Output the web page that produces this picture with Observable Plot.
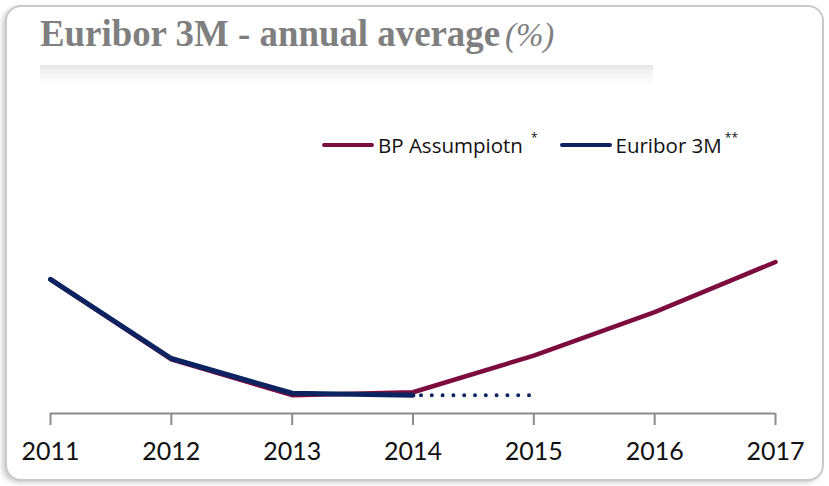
<!DOCTYPE html>
<html>
<head>
<meta charset="utf-8">
<script src="https://cdn.jsdelivr.net/npm/d3@7"></script>
<script src="https://cdn.jsdelivr.net/npm/@observablehq/plot@0.6"></script>
<style>
  html, body { margin: 0; padding: 0; background: #fff; }
  #wrap { position: relative; width: 829px; height: 486px; overflow: hidden; background: #fff; }
  #card { position: absolute; left: 5px; top: 5px; width: 815px; height: 472px;
          border: 2px solid #c9c9c9; border-radius: 16px;
          box-shadow: -3px 2px 4px rgba(0,0,0,0.18); background: #fff; }
  #title { position: absolute; left: 40px; top: 14px; font-family: "Liberation Serif", "Times New Roman", serif;
           font-weight: bold; font-size: 38px; line-height: 1; color: #7f7f7f; white-space: nowrap;
           transform: scaleX(0.97); transform-origin: left top; }
  #title i { font-weight: normal; font-size: 34px; margin-left: 5px; }
  #bar { position: absolute; left: 40px; top: 65px; width: 613px; height: 22px;
         background: linear-gradient(to bottom, #e6e6e6, #f6f6f6 45%, #ffffff); }
  #legend { position: absolute; left: 322px; top: 131px; font-family: "Open Sans", Lato, sans-serif;
            font-size: 20.5px; color: #111; white-space: nowrap; display: flex; align-items: center; }
  #legend .sw { display: inline-block; width: 52px; height: 4px; border-radius: 2px; margin-right: 4px; }
  #legend sup { font-size: 12px; position: relative; top: -8px; }
  #chart { position: absolute; left: 0; top: 100px; }
</style>
</head>
<body>
<div id="wrap">
  <div id="card"></div>
  <div id="title">Euribor 3M - annual average<i>(%)</i></div>
  <div id="bar"></div>
  <div id="legend"></div>
  <div id="chart"></div>
</div>
<script>
// Data (values in %)
const years = [2011, 2012, 2013, 2014, 2015, 2016, 2017];
const euriborYears = [2011, 2012, 2013, 2014];
const euriborValues = [1.39, 0.57, 0.21, 0.19];
const bpYears = [2011, 2012, 2013, 2014, 2015, 2016, 2017];
const bpValues = [1.39, 0.56, 0.19, 0.22, 0.60, 1.05, 1.57];
const dottedYears = [2014, 2015];
const dottedValues = [0.19, 0.19];
const seriesNames = ["BP Assumpiotn", "Euribor 3M"];
const seriesMarks = ["*", "**"];
const seriesColors = ["#7d0c3e", "#0b2461"];

const euribor = euriborYears.map((y, i) => ({year: y, value: euriborValues[i]}));
const bp = bpYears.map((y, i) => ({year: y, value: bpValues[i]}));
const dotted = dottedYears.map((y, i) => ({year: y, value: dottedValues[i]}));

// Legend
const legend = document.getElementById("legend");
seriesNames.forEach((n, i) => {
  const sw = document.createElement("span");
  sw.className = "sw"; sw.style.background = seriesColors[i];
  if (i > 0) sw.style.marginLeft = "22px";
  legend.appendChild(sw);
  const t = document.createElement("span");
  t.textContent = n;
  legend.appendChild(t);
  const s = document.createElement("sup");
  s.textContent = seriesMarks[i];
  s.style.marginLeft = i === 0 ? "8px" : "3px";
  legend.appendChild(s);
});

const chart = Plot.plot({
  width: 829,
  height: 380,
  marginLeft: 50,
  marginRight: 54,
  marginTop: 120,
  marginBottom: 67,
  x: {domain: [2011, 2017], ticks: years, tickFormat: d => String(d)},
  y: {domain: [0, 2], axis: null},
  style: {fontFamily: "Lato, 'Open Sans', sans-serif", fontSize: "25px", color: "#111", background: "transparent"},
  marks: [
    Plot.ruleY([0], {stroke: "#8c8c8c", strokeWidth: 2}),
    Plot.axisX({ticks: years, tickFormat: d => String(d), tickSize: 12, tickPadding: 17, stroke: "#8c8c8c", strokeWidth: 2, fill: "#111", fontSize: 25, label: null}),
    Plot.line(bp, {x: "year", y: "value", stroke: seriesColors[0], strokeWidth: 4.5, strokeLinecap: "round", strokeLinejoin: "round"}),
    Plot.line(euribor, {x: "year", y: "value", stroke: seriesColors[1], strokeWidth: 5, strokeLinejoin: "round"}),
    Plot.line(dotted, {x: "year", y: "value", stroke: seriesColors[1], strokeWidth: 4, strokeLinecap: "round", strokeDasharray: "0,10.8", strokeDashoffset: 2.8})
  ]
});
document.getElementById("chart").appendChild(chart);
</script>
</body>
</html>
